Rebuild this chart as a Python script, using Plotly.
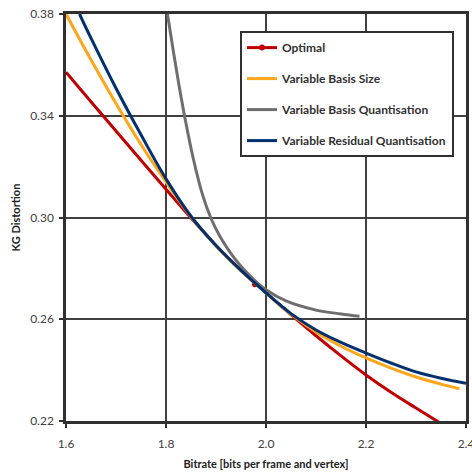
import plotly.graph_objects as go

# ---- data ----
opt_x = [1.60, 1.65, 1.70, 1.75, 1.80, 1.85, 1.90, 1.95, 2.00, 2.05, 2.10, 2.15, 2.20, 2.25, 2.30, 2.35]
opt_y = [0.3571, 0.3455, 0.3340, 0.3225, 0.3111, 0.2998, 0.2890, 0.2793, 0.2704, 0.2618, 0.2535, 0.2456, 0.2381, 0.2313, 0.2251, 0.2190]
opt_mark_x = [1.978]
opt_mark_y = [0.2738]

vbs_x = [1.60, 1.65, 1.70, 1.75, 1.80, 1.85, 1.90, 1.95, 2.00, 2.05, 2.10, 2.15, 2.20, 2.25, 2.30, 2.35, 2.387]
vbs_y = [0.3800, 0.3620, 0.3448, 0.3287, 0.3140, 0.3003, 0.2888, 0.2790, 0.2704, 0.2620, 0.2550, 0.2494, 0.2448, 0.2408, 0.2373, 0.2345, 0.2327]

vbq_x = [1.803, 1.815, 1.826, 1.837, 1.855, 1.873, 1.891, 1.910, 1.930, 1.950, 1.975, 2.000, 2.040, 2.100, 2.150, 2.187]
vbq_y = [0.3800, 0.3650, 0.3520, 0.3400, 0.3228, 0.3090, 0.2992, 0.2918, 0.2858, 0.2808, 0.2757, 0.2716, 0.2672, 0.2636, 0.2621, 0.2612]

vrq_x = [1.627, 1.65, 1.70, 1.75, 1.80, 1.85, 1.90, 1.95, 2.00, 2.05, 2.10, 2.15, 2.20, 2.25, 2.30, 2.35, 2.40]
vrq_y = [0.3800, 0.3705, 0.3508, 0.3325, 0.3152, 0.3005, 0.2890, 0.2792, 0.2704, 0.2622, 0.2558, 0.2509, 0.2467, 0.2428, 0.2393, 0.2368, 0.2348]

names = ["Optimal", "Variable Basis Size", "Variable Basis Quantisation", "Variable Residual Quantisation"]
x_ticks = [1.6, 1.8, 2.0, 2.2, 2.4]
y_ticks = [0.22, 0.26, 0.30, 0.34, 0.38]

RED = "#C00000"
ORANGE = "#FFA51A"
GRAY = "#6E6E6E"
BLUE = "#00306E"
FONT = "Lato"

fig = go.Figure()
fig.add_trace(go.Scatter(x=opt_x, y=opt_y, mode="lines", line=dict(color=RED, width=3),
                         name=names[0], legendgroup="g0", showlegend=False, line_shape="spline"))
fig.add_trace(go.Scatter(x=opt_mark_x, y=opt_mark_y, mode="lines+markers", line=dict(color=RED, width=3),
                         marker=dict(color=RED, size=6), name=names[0], legendgroup="g0"))
fig.add_trace(go.Scatter(x=vbs_x, y=vbs_y, mode="lines", line=dict(color=ORANGE, width=3),
                         name=names[1], legendgroup="g1", line_shape="spline"))
fig.add_trace(go.Scatter(x=vbq_x, y=vbq_y, mode="lines", line=dict(color=GRAY, width=3),
                         name=names[2], legendgroup="g2", line_shape="spline"))
fig.add_trace(go.Scatter(x=vrq_x, y=vrq_y, mode="lines", line=dict(color=BLUE, width=3),
                         name=names[3], legendgroup="g3", line_shape="spline"))

axis_common = dict(
    showline=True, mirror=True, linecolor="#303030", linewidth=2.5,
    showgrid=True, gridcolor="#404040", gridwidth=1.5,
    ticks="outside", ticklen=4, tickwidth=1.5, tickcolor="#303030",
    zeroline=False, automargin=False, ticklabeloverflow="allow",
    tickfont=dict(family=FONT, size=12, color="#404040"),
)

fig.update_xaxes(range=[1.6, 2.4], tickvals=x_ticks, tickformat=".1f", ticklabelstandoff=6,
                 title=dict(text="<b>Bitrate [bits per frame and vertex]</b>",
                            font=dict(family=FONT, size=11, color="#202020"), standoff=11),
                 **axis_common)
fig.update_yaxes(range=[0.22, 0.38], tickvals=y_ticks, tickformat=".2f", ticklabelstandoff=3,
                 title=dict(text="<b>KG Distortion</b>",
                            font=dict(family=FONT, size=11, color="#202020"), standoff=8),
                 **axis_common)

fig.update_layout(
    width=472, height=474,
    margin=dict(l=66, r=6, t=14, b=53),
    paper_bgcolor="white", plot_bgcolor="white",
    font=dict(family=FONT, size=11, color="#303030"),
    legend=dict(
        x=0.435, y=0.958, xanchor="left", yanchor="top",
        bgcolor="white", bordercolor="#303030", borderwidth=2,
        traceorder="grouped", tracegroupgap=12,
        font=dict(family=FONT, size=12, color="#303030", weight="bold"),
        itemwidth=30,
    ),
)

fig.write_html("out.html", config={"displayModeBar": False},
               post_script="document.body.style.margin='0';")
